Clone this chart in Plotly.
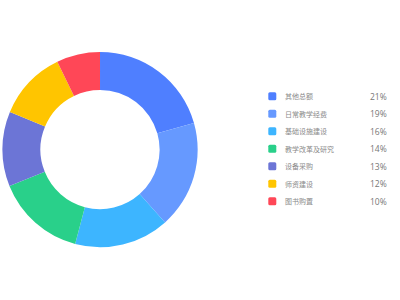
import plotly.graph_objects as go

categories = ["其他总额", "日常教学经费", "基础设施建设", "教学改革及研究", "设备采购", "师资建设", "图书购置"]
values = [20.6, 17.8, 15.7, 14.8, 12.4, 11.5, 7.2]
pct_labels = ["21%", "19%", "16%", "14%", "13%", "12%", "10%"]
colors = ["#4F7FFF", "#6699FF", "#3DB5FF", "#29D08A", "#6C75D6", "#FFC500", "#FF4757"]

fig = go.Figure(go.Pie(
    labels=categories,
    values=values,
    hole=0.61,
    sort=False,
    direction="clockwise",
    rotation=0,
    textinfo="none",
    marker=dict(colors=colors, line=dict(width=0)),
    domain=dict(x=[0.0058, 0.4943], y=[0.176, 0.827]),
    showlegend=False,
    hoverinfo="label+percent",
))

W, H = 400, 300


def rounded_rect(x0, x1, ytop, ybot, r):
    # pixel coords (y down) -> paper coords path
    def px(x):
        return x / W

    def py(y):
        return 1 - y / H

    pts = [
        f"M{px(x0 + r)},{py(ytop)}",
        f"L{px(x1 - r)},{py(ytop)}",
        f"Q{px(x1)},{py(ytop)} {px(x1)},{py(ytop + r)}",
        f"L{px(x1)},{py(ybot - r)}",
        f"Q{px(x1)},{py(ybot)} {px(x1 - r)},{py(ybot)}",
        f"L{px(x0 + r)},{py(ybot)}",
        f"Q{px(x0)},{py(ybot)} {px(x0)},{py(ybot - r)}",
        f"L{px(x0)},{py(ytop + r)}",
        f"Q{px(x0)},{py(ytop)} {px(x0 + r)},{py(ytop)}",
        "Z",
    ]
    return " ".join(pts)


y0 = 96.3
dy = 17.5
shapes = []
annotations = []
for i, (name, pct, c) in enumerate(zip(categories, pct_labels, colors)):
    yc = y0 + i * dy
    shapes.append(dict(
        type="path", xref="paper", yref="paper",
        path=rounded_rect(268.3, 276.3, yc - 4, yc + 4, 1.5),
        fillcolor=c, line=dict(width=0), layer="above",
    ))
    annotations.append(dict(
        xref="paper", yref="paper", x=282.5 / W, y=1 - yc / H,
        xanchor="left", yanchor="middle", showarrow=False,
        text=name, font=dict(size=7, color="#8a8a8a", family="Noto Sans CJK SC"),
    ))
    annotations.append(dict(
        xref="paper", yref="paper", x=388.5 / W, y=1 - yc / H,
        xanchor="right", yanchor="middle", showarrow=False,
        text=pct, font=dict(size=8.5, color="#777777", family="Open Sans"),
    ))

fig.update_layout(
    width=W, height=H,
    margin=dict(l=0, r=0, t=0, b=0),
    paper_bgcolor="white", plot_bgcolor="white",
    shapes=shapes, annotations=annotations,
)

fig.write_html("out.html")
